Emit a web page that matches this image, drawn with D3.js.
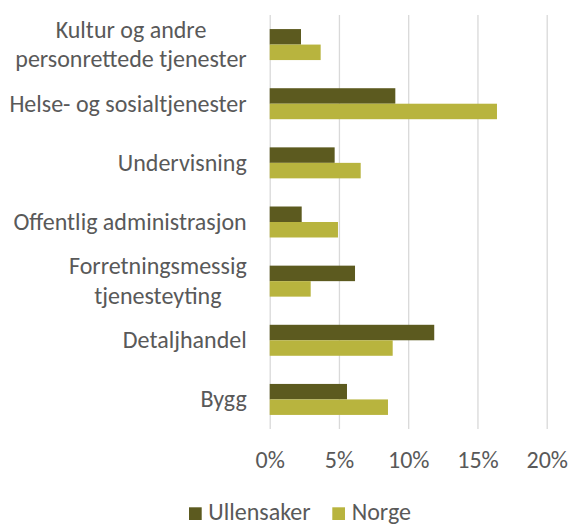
<!DOCTYPE html>
<html>
<head>
<meta charset="utf-8">
<script src="https://cdn.jsdelivr.net/npm/d3@7"></script>
<style>
  body { margin: 0; background: #fff; }
  svg text { font-family: Carlito, Lato, sans-serif; fill: #595959; }
</style>
</head>
<body>
<svg id="chart" width="569" height="525"></svg>
<script>
// categories, top to bottom (lines split as in the picture)
const categories = [
    ['Kultur og andre', 'personrettede tjenester'],
    ['Helse- og sosialtjenester'],
    ['Undervisning'],
    ['Offentlig administrasjon'],
    ['Forretningsmessig', 'tjenesteyting'],
    ['Detaljhandel'],
    ['Bygg']
];
const seriesNames = ['Ullensaker', 'Norge'];
const ullensaker = [2.26, 9.07, 4.69, 2.31, 6.16, 11.88, 5.58];
const norge = [3.68, 16.41, 6.57, 4.93, 2.96, 8.88, 8.54];
const tickValues = [0, 5, 10, 15, 20];

const svg = d3.select('svg#chart'),
    fontSize = 24,
    plotLeft = 269.7,
    plotRight = 546.7,
    plotTop = 15,
    plotBottom = 429,
    labelRight = 246.7,
    colors = ['#5c5a1f', '#b8b43e'],
    gridColor = '#d9d9d9';

const x = d3.scaleLinear().domain([0, 20]).range([plotLeft, plotRight]);
const y = d3.scaleBand()
    .domain(d3.range(categories.length))
    .range([plotTop, plotBottom])
    .paddingInner(0.476)
    .paddingOuter(0.238);
const ySub = d3.scaleBand().domain([0, 1]).range([0, y.bandwidth()]);

// gridlines + tick labels
const axis = svg.append('g')
    .attr('transform', `translate(0,${plotBottom})`)
    .call(d3.axisBottom(x)
        .tickValues(tickValues)
        .tickSize(-(plotBottom - plotTop))
        .tickFormat(d => d + '%'));
axis.select('.domain').remove();
axis.selectAll('.tick line').attr('stroke', gridColor).attr('stroke-width', 1.3);
axis.selectAll('.tick text')
    .attr('y', 39.3)
    .attr('dy', 0)
    .style('font-size', fontSize + 'px')
    .style('font-family', 'Carlito, Lato, sans-serif')
    .attr('fill', '#595959');

// bars
const series = [ullensaker, norge];
series.forEach((values, s) => {
    svg.append('g')
        .selectAll('rect')
        .data(values)
        .join('rect')
        .attr('x', x(0))
        .attr('y', (d, i) => y(i) + ySub(s))
        .attr('width', d => x(d) - x(0))
        .attr('height', ySub.bandwidth())
        .attr('fill', colors[s]);
});

// category labels: lines centered in a block aligned right
categories.forEach((lines, i) => {
    const g = svg.append('g');
    const texts = lines.map(line => g.append('text')
        .text(line)
        .style('font-size', fontSize + 'px')
        .attr('text-anchor', 'middle'));
    const blockWidth = d3.max(texts, t => t.node().getComputedTextLength());
    const cx = labelRight - blockWidth / 2;
    const center = y(i) + y.bandwidth() / 2 + 8;
    const lineH = 29.4;
    texts.forEach((t, k) => {
        t.attr('x', cx).attr('y', center + (k - (lines.length - 1) / 2) * lineH);
    });
});

// legend
const legendItems = [
    { name: seriesNames[0], sx: 189, tx: 208.3 },
    { name: seriesNames[1], sx: 332.3, tx: 351.7 }
];
legendItems.forEach((item, i) => {
    svg.append('rect')
        .attr('x', item.sx)
        .attr('y', 507.3)
        .attr('width', 12.7)
        .attr('height', 12.7)
        .attr('fill', colors[i]);
    svg.append('text')
        .text(item.name)
        .attr('x', item.tx)
        .attr('y', 520.3)
        .style('font-size', fontSize + 'px');
});
</script>
</body>
</html>
